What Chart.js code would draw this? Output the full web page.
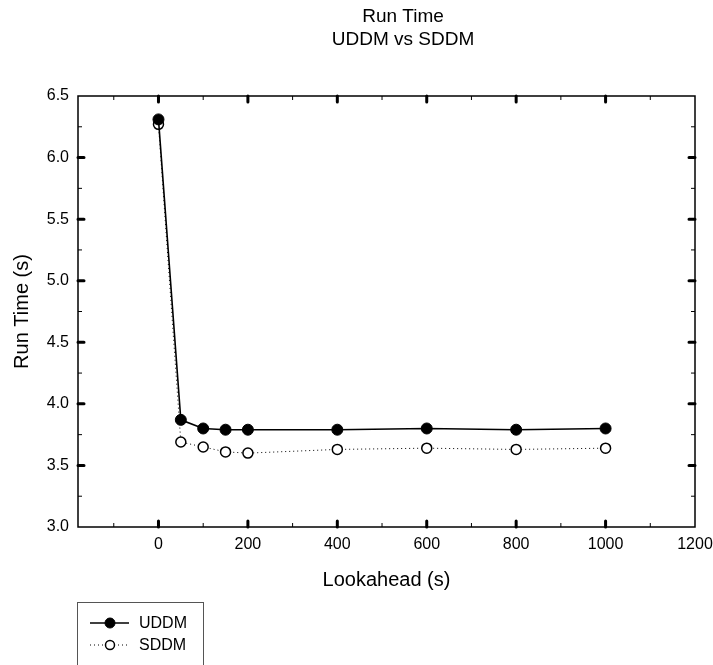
<!DOCTYPE html>
<html>
<head>
<meta charset="utf-8">
<title>Run Time</title>
<script src="https://cdn.jsdelivr.net/npm/chart.js@4/dist/chart.umd.min.js"></script>
<style>
  html, body { margin: 0; padding: 0; background: #fff; }
  #wrap { position: relative; width: 713px; height: 665px; }
</style>
</head>
<body>
<div id="wrap"><canvas id="chart" width="713" height="665"></canvas></div>
<script>
// lookahead values (s) and measured run times (s)
const lookahead = [0, 50, 100, 150, 200, 400, 600, 800, 1000];
const uddmTimes = [6.31, 3.87, 3.80, 3.79, 3.79, 3.79, 3.80, 3.79, 3.80];
const sddmTimes = [6.27, 3.69, 3.65, 3.61, 3.60, 3.63, 3.64, 3.63, 3.64];

const xMajor = [0, 200, 400, 600, 800, 1000, 1200];
const xMinor = [-100, 100, 300, 500, 700, 900, 1100];
const yMajor = [3.0, 3.5, 4.0, 4.5, 5.0, 5.5, 6.0, 6.5];
const yMinor = [3.25, 3.75, 4.25, 4.75, 5.25, 5.75, 6.25];

const titleLines = ['Run Time', 'UDDM vs SDDM'];
const FONT = '"Liberation Sans", Arial, sans-serif';

function toPoints(xs, ys) {
    return xs.map((x, i) => ({ x: x, y: ys[i] }));
}

// frame + inward tick marks on all four sides
const frameTicks = {
    id: 'frameTicks',
    afterDatasetsDraw(chart) {
        const { ctx, chartArea: a, scales } = chart;
        const xs = scales.x, ys = scales.y;
        ctx.save();
        ctx.strokeStyle = '#000';
        ctx.lineWidth = 1.5;
        ctx.strokeRect(a.left, a.top, a.right - a.left, a.bottom - a.top);

        ctx.lineCap = 'butt';
        ctx.lineWidth = 1;
        xMinor.forEach(v => {
            const px = xs.getPixelForValue(v);
            ctx.beginPath();
            ctx.moveTo(px, a.bottom); ctx.lineTo(px, a.bottom - 4);
            ctx.moveTo(px, a.top); ctx.lineTo(px, a.top + 4);
            ctx.stroke();
        });
        yMinor.forEach(v => {
            const py = ys.getPixelForValue(v);
            ctx.beginPath();
            ctx.moveTo(a.left, py); ctx.lineTo(a.left + 4, py);
            ctx.moveTo(a.right, py); ctx.lineTo(a.right - 4, py);
            ctx.stroke();
        });

        ctx.lineWidth = 3;
        ctx.lineCap = 'round';
        xMajor.forEach(v => {
            const px = xs.getPixelForValue(v);
            if (px > a.right - 2) return;
            ctx.beginPath();
            ctx.moveTo(px, a.bottom); ctx.lineTo(px, a.bottom - 6);
            ctx.moveTo(px, a.top); ctx.lineTo(px, a.top + 6);
            ctx.stroke();
        });
        yMajor.forEach(v => {
            const py = ys.getPixelForValue(v);
            if (py < a.top + 2 || py > a.bottom - 2) return;
            ctx.beginPath();
            ctx.moveTo(a.left, py); ctx.lineTo(a.left + 6, py);
            ctx.moveTo(a.right, py); ctx.lineTo(a.right - 6, py);
            ctx.stroke();
        });
        ctx.restore();
    }
};

// two-line title
const topTitle = {
    id: 'topTitle',
    afterDraw(chart) {
        const ctx = chart.ctx;
        ctx.save();
        ctx.fillStyle = '#000';
        ctx.font = '19px ' + FONT;
        ctx.textAlign = 'center';
        ctx.textBaseline = 'middle';
        ctx.fillText(titleLines[0], 403, 17);
        ctx.fillText(titleLines[1], 403, 40);
        ctx.restore();
    }
};

// boxed legend under the x axis title
const legendBox = {
    id: 'legendBox',
    afterDraw(chart) {
        const ctx = chart.ctx;
        const x0 = 77, y0 = 602;
        ctx.save();
        ctx.strokeStyle = '#555';
        ctx.lineWidth = 1;
        ctx.strokeRect(x0 + 0.5, y0 + 0.5, 126, 80);
        ctx.font = '16px ' + FONT;
        ctx.textBaseline = 'middle';
        chart.data.datasets.forEach((ds, i) => {
            const y = 623 + i * 22;
            ctx.strokeStyle = '#000';
            ctx.lineWidth = ds.borderWidth;
            ctx.setLineDash(ds.borderDash || []);
            ctx.beginPath();
            ctx.moveTo(90, y); ctx.lineTo(129, y);
            ctx.stroke();
            ctx.setLineDash([]);
            ctx.beginPath();
            ctx.arc(110, y, ds.pointRadius - 0.5, 0, Math.PI * 2);
            ctx.fillStyle = ds.pointBackgroundColor;
            ctx.fill();
            ctx.lineWidth = ds.pointBorderWidth;
            ctx.stroke();
            ctx.fillStyle = '#000';
            ctx.fillText(ds.label, 139, y + 1);
        });
        ctx.restore();
    }
};

new Chart(document.getElementById('chart'), {
    type: 'line',
    data: {
        datasets: [
            {
                label: 'UDDM',
                data: toPoints(lookahead, uddmTimes),
                borderColor: '#000',
                borderWidth: 1.6,
                pointRadius: 5.5,
                pointBackgroundColor: '#000',
                pointBorderColor: '#000',
                pointBorderWidth: 1,
                tension: 0
            },
            {
                label: 'SDDM',
                data: toPoints(lookahead, sddmTimes),
                borderColor: '#000',
                borderWidth: 1,
                borderDash: [1, 3],
                pointRadius: 5,
                pointBackgroundColor: '#fff',
                pointBorderColor: '#000',
                pointBorderWidth: 1.5,
                tension: 0
            }
        ]
    },
    options: {
        responsive: false,
        animation: false,
        layout: { padding: { top: 96, right: 18, left: 0, bottom: 69 } },
        plugins: {
            legend: { display: false },
            title: { display: false },
            tooltip: { enabled: false }
        },
        scales: {
            x: {
                type: 'linear',
                min: -180,
                max: 1200,
                afterFit(scale) { scale.height = 69; scale.paddingLeft = 0; scale.paddingRight = 0; },
                afterBuildTicks(scale) { scale.ticks = xMajor.map(v => ({ value: v })); },
                grid: { display: false, drawTicks: false },
                border: { display: false },
                ticks: {
                    color: '#000',
                    font: { family: FONT, size: 16 },
                    padding: 8,
                    maxRotation: 0,
                    callback: v => String(v)
                },
                title: { display: true, text: 'Lookahead (s)', color: '#000', font: { family: FONT, size: 20 } }
            },
            y: {
                min: 3.0,
                max: 6.5,
                afterFit(scale) { scale.width = 78; scale.paddingTop = 0; scale.paddingBottom = 0; },
                afterBuildTicks(scale) { scale.ticks = yMajor.map(v => ({ value: v })); },
                grid: { display: false, drawTicks: false },
                border: { display: false },
                ticks: {
                    color: '#000',
                    font: { family: FONT, size: 16 },
                    padding: 9,
                    callback: v => v.toFixed(1)
                },
                title: {
                    display: true,
                    text: 'Run Time (s)',
                    color: '#000',
                    font: { family: FONT, size: 20 },
                    padding: { top: 10, bottom: 0 }
                }
            }
        }
    },
    plugins: [frameTicks, topTitle, legendBox]
});
</script>
</body>
</html>
